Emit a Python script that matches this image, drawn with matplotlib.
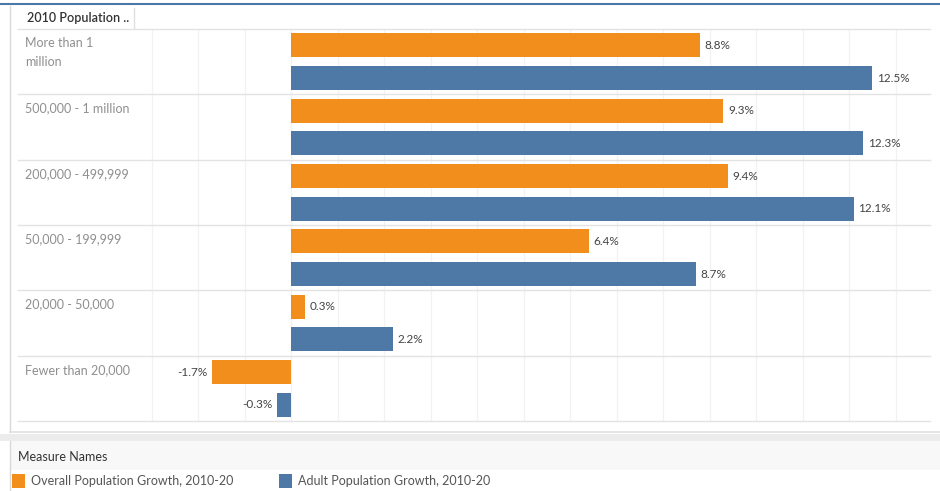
import matplotlib
matplotlib.use("Agg")
import matplotlib.pyplot as plt
from matplotlib.patches import Rectangle
from matplotlib.lines import Line2D

categories = ["More than 1\nmillion", "500,000 - 1 million", "200,000 - 499,999",
              "50,000 - 199,999", "20,000 - 50,000", "Fewer than 20,000"]
overall = [8.8, 9.3, 9.4, 6.4, 0.3, -1.7]
adult = [12.5, 12.3, 12.1, 8.7, 2.2, -0.3]
series_names = ["Overall Population Growth, 2010-20", "Adult Population Growth, 2010-20"]
colors = ["#F28E1C", "#4E79A7"]

W, H = 940, 491
fig = plt.figure(figsize=(W / 100, H / 100), dpi=100)
plt.rcParams['font.family'] = ['Lato', 'DejaVu Sans']

def fx(px):
    return px / W

def fy(py):
    return 1 - py / H

def hline(y, x0, x1, color, lw=1.0):
    fig.add_artist(Line2D([fx(x0), fx(x1)], [fy(y), fy(y)], color=color, lw=lw, transform=fig.transFigure))

def vline(x, y0, y1, color, lw=1.0):
    fig.add_artist(Line2D([fx(x), fx(x)], [fy(y0), fy(y1)], color=color, lw=lw, transform=fig.transFigure))

hline(4, 0, 940, "#4a78a8", 1.5)
vline(10, 6, 432, "#d9d9d9", 1.0)
vline(10, 441, 491, "#d9d9d9", 1.0)
hline(432, 10, 940, "#e0e0e0", 1.2)
fig.add_artist(Rectangle((fx(0), fy(441)), fx(940), fy(434) - fy(441), transform=fig.transFigure,
                         facecolor="#ececec", edgecolor="none"))
fig.add_artist(Rectangle((fx(10), fy(470)), fx(930), fy(441) - fy(470), transform=fig.transFigure,
                         facecolor="#f8f8f8", edgecolor="none"))

# header
fig.text(fx(27), fy(18), "2010 Population ..", fontsize=9, color="#333333", fontweight="semibold",
         va="center", ha="left")
vline(134, 8, 29, "#e0e0e0", 1.0)

# main axes
left, right, top, bottom = 134, 930, 29, 421
ax = fig.add_axes([fx(left), fy(bottom), fx(right - left), fy(top) - fy(bottom)])
n = len(categories)
px_per_unit = 46.5
xmin = -(291 - left) / px_per_unit
xmax = (right - 291) / px_per_unit
ax.set_xlim(xmin, xmax)
ax.set_ylim(n, 0)
for s in ax.spines.values():
    s.set_visible(False)
ax.set_xticks([])
ax.set_yticks([])

for g in range(-3, 14):
    ax.axvline(g, color="#f2f2f2", lw=0.9, zorder=0)

bh = 0.365
for i in range(n):
    yo = i + 0.25
    yb = i + 0.75
    ax.barh(yo, overall[i], height=bh, color=colors[0], zorder=2)
    ax.barh(yb, adult[i], height=bh, color=colors[1], zorder=2)
    for val, yy in ((overall[i], yo), (adult[i], yb)):
        if val >= 0:
            ax.text(val + 0.1, yy, f"{val}%", fontsize=8.5, color="#444444", va="center", ha="left")
        else:
            ax.text(val - 0.1, yy, f"{val}%", fontsize=8.5, color="#444444", va="center", ha="right")

# row separators and labels
for i in range(n + 1):
    ypx = top + (bottom - top) * i / n
    hline(ypx, 18, right, "#e3e3e3", 1.0)
for i, c in enumerate(categories):
    ypx = top + (bottom - top) * i / n
    fig.text(fx(25), fy(ypx + 8), c, fontsize=9, color="#8f8f8f", va="top", ha="left",
             linespacing=1.75)

# legend
fig.text(fx(18), fy(457), "Measure Names", fontsize=9, color="#333333", va="center", ha="left")
lx = [12, 279]
for k in range(2):
    fig.add_artist(Rectangle((fx(lx[k]), fy(488)), fx(13), fy(474) - fy(488), transform=fig.transFigure,
                             facecolor=colors[k], edgecolor="none"))
    fig.text(fx(lx[k] + 19), fy(481), series_names[k], fontsize=9, color="#555555",
             va="center", ha="left")

fig.savefig("out.png", dpi=100)
